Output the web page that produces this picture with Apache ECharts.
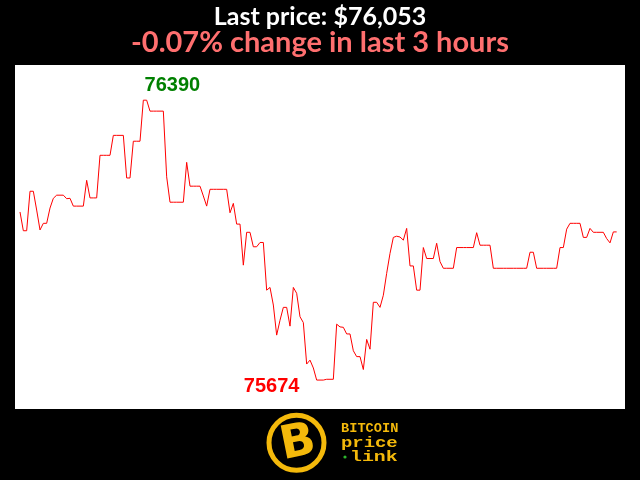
<!DOCTYPE html>
<html>
<head>
<meta charset="utf-8">
<script src="https://cdn.jsdelivr.net/npm/echarts@6/dist/echarts.min.js"></script>
<style>
html,body{margin:0;padding:0;background:#000;}
#chart{width:640px;height:480px;}
</style>
</head>
<body>
<div id="chart"></div>
<script>
var titleText = "Last price: $76,053";
var subtitleText = "-0.07% change in last 3 hours";
var prices = [
76104,76056,76056,76157,76157,76109,76058,76075,76075,76114,
76139,76147,76147,76147,76138,76139,76119,76119,76119,76119,
76185,76140,76140,76140,76249,76249,76249,76249,76300,76300,
76300,76300,76191,76191,76285,76285,76285,76390,76390,76362,
76362,76362,76362,76362,76194,76129,76129,76129,76129,76129,
76231,76170,76170,76170,76170,76145,76119,76162,76162,76162,
76162,76162,76162,76102,76126,76073,76073,75968,76052,76052,
76015,76015,76026,76026,75904,75911,75866,75789,75827,75860,
75860,75812,75911,75896,75836,75821,75715,75725,75705,75674,
75674,75674,75676,75676,75676,75817,75810,75809,75792,75792,
75749,75734,75734,75701,75778,75753,75873,75873,75860,75891,
75947,75998,76039,76042,76040,76032,76062,75966,75966,75904,
75904,76013,75985,75985,75985,76024,75977,75960,75960,75960,
75960,76013,76013,76013,76013,76013,76013,76051,76019,76019,
76019,76019,75960,75960,75960,75960,75960,75960,75960,75960,
75960,75960,75960,76001,76001,75960,75960,75960,75960,75960,
75960,75960,76013,76013,76060,76075,76075,76075,76075,76039,
76039,76062,76052,76052,76052,76052,76036,76025,76053,76053
];
var seriesData = prices.map(function (v, i) { return [i, v]; });

var chart = echarts.init(document.getElementById('chart'));
var gold = '#f4b90b';
chart.setOption({
  backgroundColor: '#000',
  animation: false,
  title: [
    { text: titleText, left: 'center', top: -1,
      textStyle: { color: '#fff', fontSize: 25, fontWeight: 'bold', fontFamily: 'Lato' } },
    { text: subtitleText, left: 'center', top: 23,
      textStyle: { color: '#ff6f6f', fontSize: 29, fontWeight: 'bold', fontFamily: 'Lato' } }
  ],
  grid: { left: 15, right: 15, top: 65, bottom: 71, show: true, backgroundColor: '#fff', borderWidth: 0 },
  xAxis: { type: 'value', min: -1.5, max: 181.5, show: false },
  yAxis: { type: 'value', min: 75600, max: 76480, show: false },
  series: [{
    type: 'line',
    data: seriesData,
    showSymbol: false,
    lineStyle: { color: '#ff0000', width: 1 },
    itemStyle: { color: '#ff0000' },
    markPoint: {
      symbol: 'circle', symbolSize: 0,
      data: [
        { type: 'max', label: { show: true, position: 'inside', offset: [29, -15], color: '#008000', fontSize: 20, fontWeight: 'bold', fontFamily: 'Liberation Sans', formatter: function (p) { return p.value; } } },
        { type: 'min', label: { show: true, position: 'inside', offset: [-45, 6], color: '#ff0000', fontSize: 20, fontWeight: 'bold', fontFamily: 'Liberation Sans', formatter: function (p) { return p.value; } } }
      ]
    }
  }],
  graphic: [
    { type: 'circle', shape: { cx: 296.5, cy: 442.7, r: 27.5 }, style: { fill: '#000', stroke: gold, lineWidth: 5 } },
    { type: 'text', x: 298, y: 444, rotation: 0.2, originX: 0, originY: 0,
      style: { text: 'B', fill: gold, font: 'bold 46px "DejaVu Sans"', align: 'center', verticalAlign: 'middle' } },
    { type: 'text', x: 341, y: 429, scaleX: 1.05, originX: 0, originY: 0, style: { text: 'BITCOIN', fill: gold, font: 'bold 13px "Liberation Mono"', verticalAlign: 'middle' } },
    { type: 'text', x: 341, y: 443, scaleX: 1.35, originX: 0, originY: 0, style: { text: 'price', fill: gold, font: 'bold 14px "Liberation Mono"', verticalAlign: 'middle' } },
    { type: 'circle', shape: { cx: 345, cy: 457, r: 1.6 }, style: { fill: '#2db52d' } },
    { type: 'text', x: 350, y: 457, scaleX: 1.42, originX: 0, originY: 0, style: { text: 'link', fill: gold, font: 'bold 14px "Liberation Mono"', verticalAlign: 'middle' } }
  ]
});
</script>
</body>
</html>
